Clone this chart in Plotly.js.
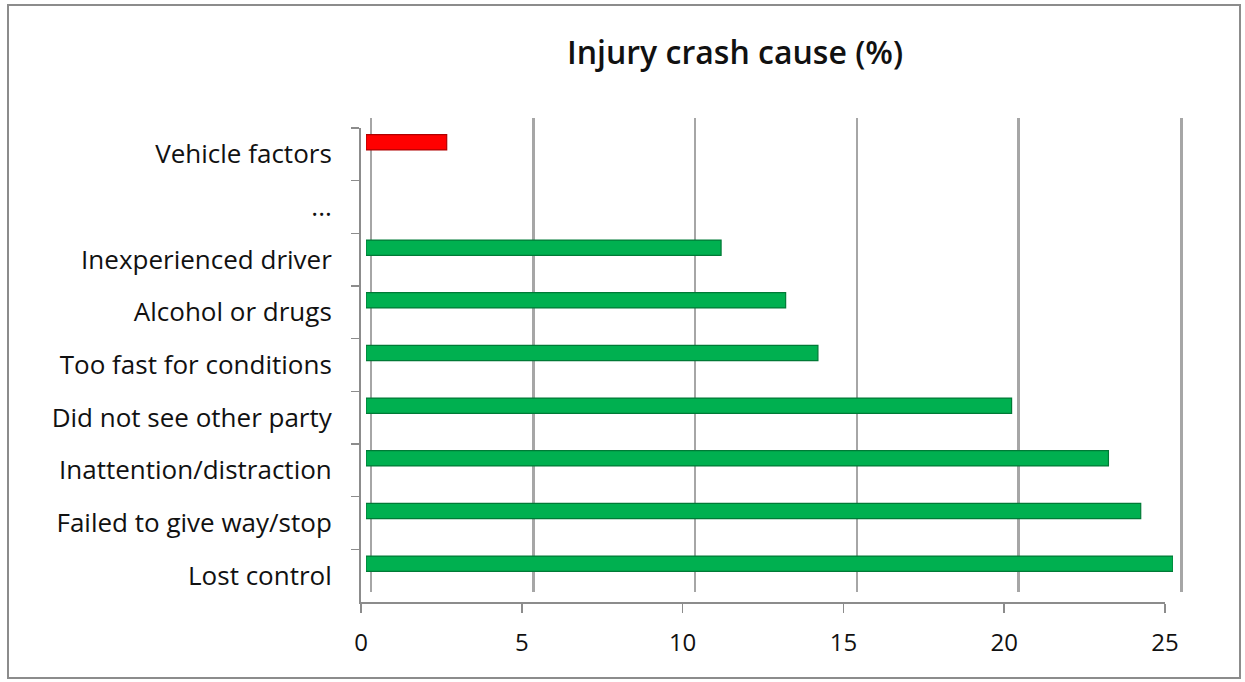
<!DOCTYPE html>
<html><head><meta charset="utf-8">
<script src="https://cdn.plot.ly/plotly-3.0.1.min.js"></script>
<style>
html,body{margin:0;padding:0;background:#fff}
#wrap{position:relative;width:1245px;height:682px}
#chart{width:1245px;height:682px}
#frame{position:absolute;left:7px;top:4px;width:1230px;height:671px;border:2px solid #8c8c8c;pointer-events:none}
</style>
</head><body>
<div id="wrap"><div id="chart"></div><div id="frame"></div></div>
<script>
// ---- data ----
const categories = ['Lost control','Failed to give way/stop','Inattention/distraction','Did not see other party','Too fast for conditions','Alcohol or drugs','Inexperienced driver','...','Vehicle factors'];
const values = [25, 24, 23, 20, 14, 13, 11, null, 2.5];
const barColors = ['#00b050','#00b050','#00b050','#00b050','#00b050','#00b050','#00b050','#00b050','#ff0000'];
const barEdges = ['#007a36','#007a36','#007a36','#007a36','#007a36','#007a36','#007a36','#007a36','#b00000'];
const xTicks = [0, 5, 10, 15, 20, 25];
const titleText = 'Injury crash cause (%)';

// ---- geometry helpers (pixels -> domain) ----
const W = 1245, H = 682;
const M = {l: 355, r: 60, t: 108, b: 77};
const PW = W - M.l - M.r, PH = H - M.t - M.b;
const dx = (a, b) => [(a - M.l) / PW, (b - M.l) / PW];
const dy = (top, bottom) => [(H - M.b - bottom) / PH, (H - M.b - top) / PH];

const FONT = '"Open Sans", "Noto Sans", sans-serif';

const traces = [
  { // back wall grid helper (no data drawn)
    type: 'scatter', x: [], y: [], xaxis: 'x2', yaxis: 'y2',
    hoverinfo: 'skip', showlegend: false
  },
  { // bars
    type: 'bar', orientation: 'h',
    x: values, y: categories, xaxis: 'x3', yaxis: 'y3',
    width: 0.29,
    marker: {color: barColors, line: {color: barEdges, width: 1.2}},
    hoverinfo: 'x+y', showlegend: false
  },
  { // front axis holder
    type: 'scatter', x: [], y: categories, xaxis: 'x', yaxis: 'y',
    hoverinfo: 'skip', showlegend: false, mode: 'markers'
  }
];

const layout = {
  width: W, height: H,
  margin: M,
  paper_bgcolor: '#ffffff', plot_bgcolor: 'rgba(0,0,0,0)',
  showlegend: false,
  font: {family: FONT, color: '#1a1a1a'},
  title: {
    text: titleText,
    font: {family: FONT, size: 32, color: '#111', weight: 600},
    x: 735 / W, xref: 'container', xanchor: 'center',
    y: 1 - 53 / H, yref: 'container', yanchor: 'middle'
  },
  // front axes: labels, ticks, axis lines
  xaxis: {
    domain: dx(361, 1165), range: [0, 25], tickvals: xTicks,
    showgrid: false, zeroline: false,
    showline: true, linecolor: '#8c8c8c', linewidth: 2,
    ticks: 'outside', ticklen: 9, tickcolor: '#8c8c8c', tickwidth: 1.5,
    tickfont: {family: FONT, size: 24, color: '#111'},
    ticklabelstandoff: 9,
    anchor: 'y', fixedrange: true
  },
  yaxis: {
    domain: dy(128, 602), type: 'category', categoryorder: 'array', categoryarray: categories,
    range: [-0.5, categories.length - 0.5],
    showgrid: false, zeroline: false,
    showline: true, linecolor: '#8c8c8c', linewidth: 2,
    ticks: 'outside', tickson: 'boundaries', ticklen: 8, tickcolor: '#8c8c8c', tickwidth: 1.5,
    tickfont: {family: FONT, size: 26, color: '#111'},
    ticklabelstandoff: 22,
    anchor: 'x', fixedrange: true
  },
  // back wall gridlines
  xaxis2: {
    domain: dx(372, 1180), range: [0, 25], tickvals: xTicks,
    showgrid: true, gridcolor: '#a6a6a6', gridwidth: 2.5,
    zeroline: false,
    showticklabels: false, ticks: '', showline: false,
    anchor: 'y2', fixedrange: true
  },
  yaxis2: {
    domain: dy(118, 592), range: [0, 1],
    showgrid: false, zeroline: false, showticklabels: false, ticks: '',
    showline: true, mirror: true, linecolor: '#a6a6a6', linewidth: 2.5,
    anchor: 'x2', fixedrange: true
  },
  // bar layer
  xaxis3: {
    domain: dx(366, 1173), range: [0, 25],
    showgrid: false, zeroline: false, showticklabels: false, ticks: '', showline: false,
    anchor: 'y3', fixedrange: true
  },
  yaxis3: {
    domain: dy(116, 590), type: 'category', categoryorder: 'array', categoryarray: categories,
    range: [-0.5, categories.length - 0.5],
    showgrid: false, zeroline: false, showticklabels: false, ticks: '', showline: false,
    anchor: 'x3', fixedrange: true
  }
};

Plotly.newPlot('chart', traces, layout, {displayModeBar: false, staticPlot: true});
</script>
</body></html>
